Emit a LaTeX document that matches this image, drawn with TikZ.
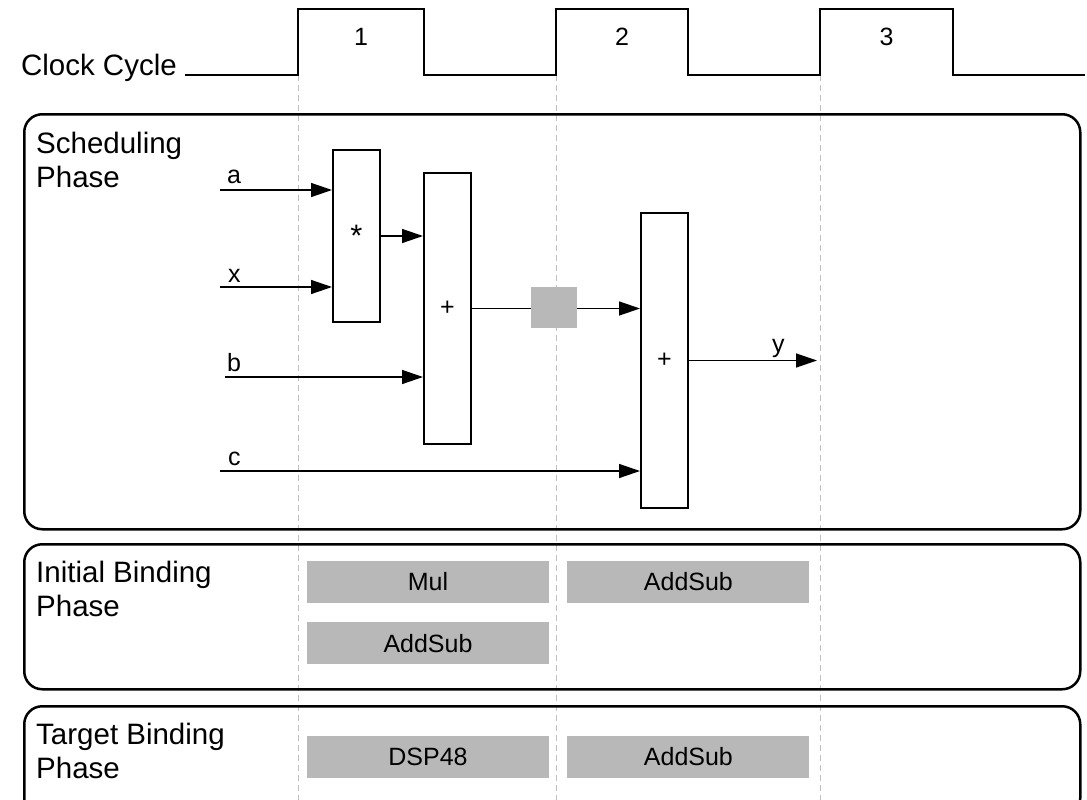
\documentclass[tikz,border=0pt]{standalone}
\usepackage{fontspec}
\setmainfont{Liberation Sans}
\usetikzlibrary{positioning,arrows.meta,calc}
\definecolor{unitgray}{RGB}{184,184,184}
\definecolor{gridgray}{RGB}{192,192,192}
\newcommand{\phasefont}{\fontsize{29.5}{34}\selectfont}
\newcommand{\opfont}{\fontsize{25}{30}\selectfont}

\begin{document}
\begin{tikzpicture}[x=1pt, y=-1pt,
    phase/.style={draw, line width=2.5pt, rounded corners=18pt, minimum width=1056pt, anchor=north west},
    phaselabel/.style={anchor=north west, align=left, inner sep=0pt, font=\phasefont},
    op/.style={draw, line width=2pt, fill=white, minimum width=47pt, inner sep=0pt, font=\opfont},
    unit/.style={fill=unitgray, minimum width=242pt, minimum height=42pt, inner sep=0pt, font=\opfont},
    sig/.style={line width=1.4pt, -{Triangle[length=21pt,width=14pt]}},
    siglabel/.style={anchor=base west, inner sep=0pt, font=\opfont},
    clock/.style={line width=2pt},
    cyclemark/.style={gridgray, line width=1pt, dash pattern=on 6pt off 4pt}
  ]
    \useasboundingbox (0,0) rectangle (1087,800);
    \coordinate (bottom) at (0,800);

    % Clock edges and cycle markers.
    \coordinate (rise1) at (298,75);
    \coordinate (rise2) at (556,75);
    \coordinate (rise3) at (820,75);
    \foreach \c in {1,2,3}
      \draw[cyclemark] (rise\c) -- (rise\c |- bottom);

    % Clock waveform.
    \draw[clock] (185,75) coordinate (clkstart) -- (rise1) -- (298,9) -- (424,9) -- (424,75)
      -- (rise2) -- (556,9) -- (688,9) -- (688,75)
      -- (rise3) -- (820,9) -- (953,9) -- (953,75) -- (1085,75);
    \node[anchor=base east, inner sep=0pt, font=\phasefont] (clklabel) at ([xshift=-8pt,yshift=-1pt]clkstart) {Clock Cycle};
    \foreach \n/\x in {1/361, 2/622, 3/886.5}
      \node[anchor=base, inner sep=0pt, font=\opfont] (num\n) at (\x,46) {\n};

    % Phases.
    \node[phase, minimum height=415pt] (sched) at (23,113) {};
    \node[phase, minimum height=145pt] (initial) at (23,543) {};
    \node[phase, minimum height=110pt] (target) at (23,705) {};
    \node[phaselabel] (schedlabel) at ([xshift=13pt,yshift=-19pt]sched.north west) {Scheduling\\Phase};
    \node[phaselabel] (initlabel) at ([xshift=13pt,yshift=-18pt]initial.north west) {Initial Binding\\Phase};
    \node[phaselabel] (targetlabel) at ([xshift=13pt,yshift=-18pt]target.north west) {Target Binding\\Phase};

    % Scheduled operations.
    \node[op, minimum height=172pt, font=\fontsize{31}{34}\selectfont] (mul) at (356.5,236) {*};
    \node[op, minimum height=271pt] (add1) at (447.5,308.5) {+};
    \node[fill=unitgray, minimum width=46pt, minimum height=41pt, inner sep=0pt] (reg) at (554,307.5) {};
    \node[op, minimum height=295pt] (add2) at (664.5,360.5) {+};

    % Inputs and output.
    \coordinate (ina) at (220,190);
    \coordinate (inx) at (220,287);
    \coordinate (inb) at (225,377);
    \coordinate (inc) at (220,471);
    \coordinate (outy) at (817,361);
    \node[siglabel] (la) at ([xshift=7pt,yshift=7pt]ina) {a};
    \node[siglabel] (lx) at ([xshift=8pt,yshift=5pt]inx) {x};
    \node[siglabel] (lb) at ([xshift=2pt,yshift=6pt]inb) {b};
    \node[siglabel] (lc) at ([xshift=8pt,yshift=6pt]inc) {c};
    \node[siglabel] (ly) at ([xshift=-45pt,yshift=9pt]outy) {y};

    \draw[sig] (ina) -- (ina -| mul.west);
    \draw[sig] (inx) -- (inx -| mul.west);
    \draw[sig] (mul.east) -- (mul.east -| add1.west);
    \draw[sig] (inb) -- (inb -| add1.west);
    \draw[line width=1.4pt] (add1.east) -- (add1.east -| reg.west);
    \draw[sig] (reg.east |- add1.east) -- (add1.east -| add2.west);
    \draw[sig] (inc) -- (inc -| add2.west);
    \draw[sig] (add2.east) -- (add2.east -| outy);

    % Binding results.
    \node[unit] (mulunit) at (428,582) {Mul};
    \node[unit, below=19pt of mulunit] (addunit1) {AddSub};
    \node[unit, right=18pt of mulunit] (addunit2) {AddSub};
    \node[unit] (dspunit) at (428,757) {DSP48};
    \node[unit, right=18pt of dspunit] (addunit3) {AddSub};
  \end{tikzpicture}
\end{document}
